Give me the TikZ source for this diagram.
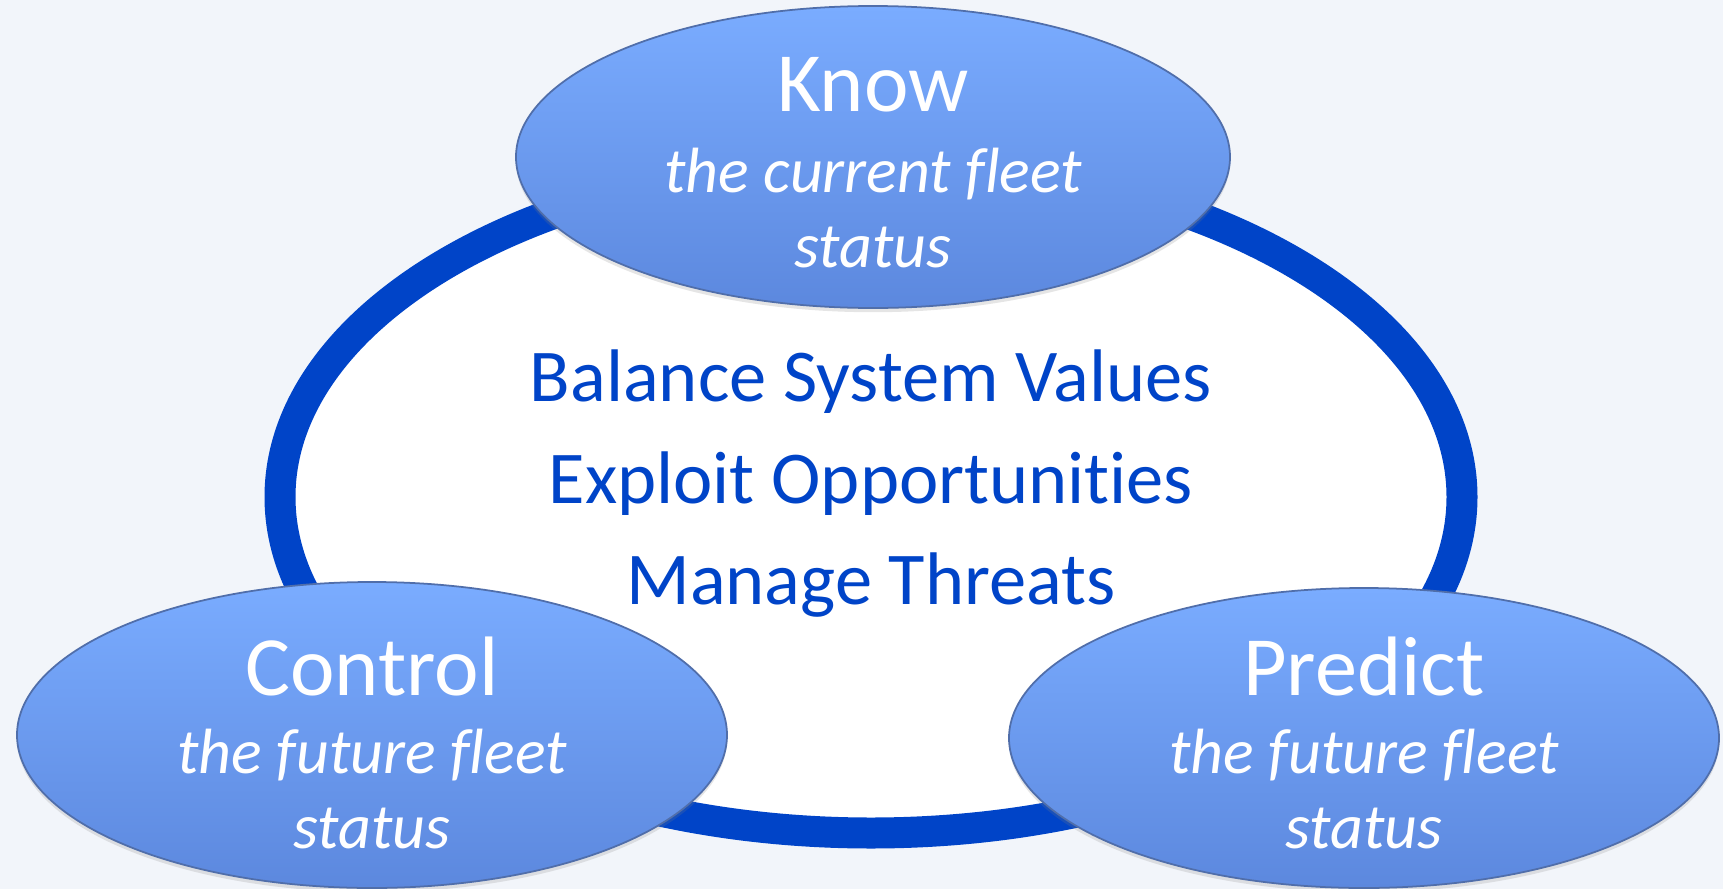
\documentclass[tikz,border=0pt]{standalone}
\usepackage{fontspec}
\setmainfont{Carlito}[Ligatures={CommonOff,RequiredOff,ContextualOff}, RawFeature=-calt]
\usetikzlibrary{shapes.geometric,shadows}

\definecolor{pagebg}{RGB}{242,245,250}
\definecolor{ringblue}{RGB}{0,68,200}
\definecolor{bubbletop}{RGB}{122,172,255}
\definecolor{bubblebot}{RGB}{92,136,222}
\definecolor{bubbleedge}{RGB}{80,110,170}

\begin{document}
\begin{tikzpicture}[
            bubble/.style = {ellipse, draw=bubbleedge, line width=0.5pt,
                top color=bubbletop, bottom color=bubblebot, inner sep=0pt,
                drop shadow={shadow xshift=0pt, shadow yshift=-1.2pt, opacity=0.2}},
            verb/.style = {text=white, anchor=base, font=\fontsize{24}{28}\selectfont},
            detail/.style = {text=white, anchor=base, font=\fontsize{18.2}{22}\selectfont\itshape},
            goal/.style = {text=ringblue, anchor=base, font=\fontsize{21.2}{26}\selectfont}]
            \useasboundingbox (0,0) rectangle (17.23,-8.89);
            \fill[pagebg] (0,0) rectangle (17.23,-8.89);
            % the ring and what sits inside it
            \coordinate (hub) at (8.71,-4.97);
            \draw[ringblue, fill=white, line width=0.31cm] (hub) ellipse (5.91 and 3.36);
            \node[goal] (balance) at (8.71,-4.01) {Balance System Values};
            \node[goal] (exploit) at (8.71,-5.03) {Exploit Opportunities};
            \node[goal] (threats) at (8.71,-6.04) {Manage Threats};
            % the three bubbles
            \node[bubble, minimum width=7.14cm, minimum height=3.02cm] (know) at (8.73,-1.57) {};
            \node[bubble, minimum width=7.10cm, minimum height=3.06cm] (control) at (3.72,-7.35) {};
            \node[bubble, minimum width=7.10cm, minimum height=3.00cm] (predict) at (13.64,-7.38) {};
            \node[verb] (know title) at (know.center |- 0,-1.12) {Know};
            \node[detail] (know what) at (know.center |- 0,-1.92) {the current fleet};
            \node[detail] (know status) at (know.center |- 0,-2.67) {status};
            \node[verb] (control title) at (control.center |- 0,-6.95) {Control};
            \node[detail] (control what) at (control.center |- 0,-7.73) {the future fleet};
            \node[detail] (control status) at (control.center |- 0,-8.48) {status};
            \node[verb] (predict title) at (predict.center |- 0,-6.95) {Predict};
            \node[detail] (predict what) at (predict.center |- 0,-7.73) {the future fleet};
            \node[detail] (predict status) at (predict.center |- 0,-8.48) {status};
        \end{tikzpicture}
\end{document}
